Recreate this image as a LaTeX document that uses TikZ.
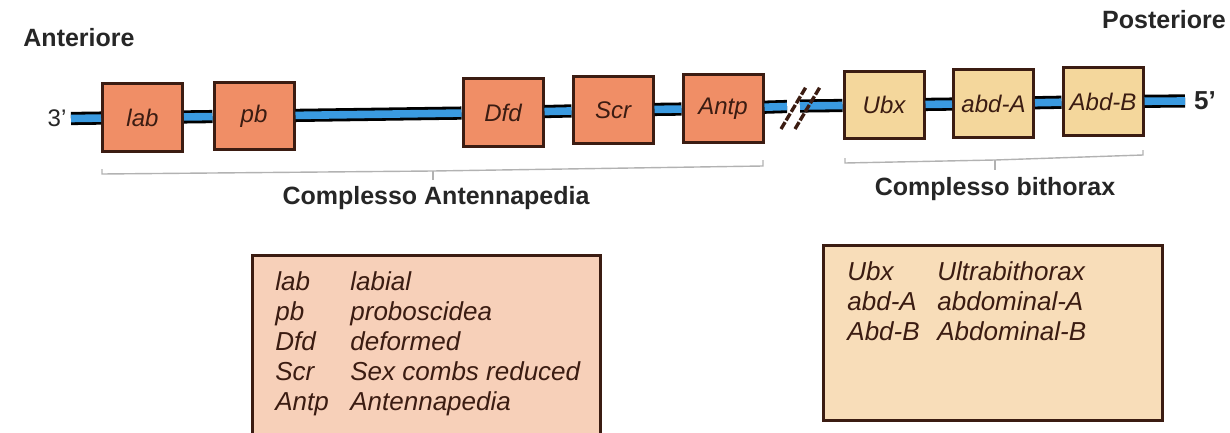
\documentclass[tikz,border=0pt]{standalone}
\usepackage{fontspec}
\setmainfont{Liberation Sans}
\definecolor{HoxOrange}{HTML}{F08E66}
\definecolor{HoxYellow}{HTML}{F4D79C}
\definecolor{KeyOrange}{HTML}{F7D0B9}
\definecolor{KeyYellow}{HTML}{F8DDB9}
\definecolor{DnaBlue}{HTML}{3A9AE0}
\definecolor{InkBrown}{HTML}{3B1C12}
\usetikzlibrary{positioning}

\begin{document}
\begin{tikzpicture}[x=0.5pt, y=-0.5pt,
  gene/.style={draw=InkBrown, line width=1.5pt, minimum width=40pt,
    minimum height=33.5pt, inner sep=0pt,
    font=\fontsize{12}{14}\selectfont\itshape, text=InkBrown},
  antgene/.style={gene, fill=HoxOrange},
  bxgene/.style={gene, fill=HoxYellow},
  dna/.style={draw=black, line width=1.4pt, double=DnaBlue, double distance=3.8pt},
  slash/.style={draw=InkBrown, line width=1.7pt, dash pattern=on 4pt off 1pt},
  bracket/.style={draw=gray!60, line width=0.7pt},
  heading/.style={font=\fontsize{12.5}{15}\selectfont\bfseries, text=black!85},
  keytext/.style={font=\fontsize{13}{15}\selectfont\itshape, text=InkBrown,
    inner sep=0pt, anchor=base west}]
  \useasboundingbox (0,0) rectangle (1230,433);

  % Ends of the chromosome
  \node[heading] (ant) at (79,38) {Anteriore};
  \node[heading] (post) at (1164,20) {Posteriore};
  \node[font=\fontsize{12}{14}\selectfont, text=black!85] (three) at (57,118) {3'};
  \node[font=\fontsize{13}{14}\selectfont\bfseries, text=black!85] (five) at (1205,101) {5'};
  \coordinate (end3) at (71,118.5);
  \coordinate (end5) at (1185,101);
  \coordinate (brkA) at (787,106.5);
  \coordinate (brkB) at (800,106);

  % Antennapedia complex
  \node[antgene] (lab) at (142.5,117.5) {lab};
  \node[antgene] (pb) at (254,116) {pb};
  \node[antgene] (Dfd) at (503,112.5) {Dfd};
  \node[antgene] (Scr) at (613,110) {Scr};
  \node[antgene] (Antp) at (723,108.5) {Antp};

  % bithorax complex
  \node[bxgene] (Ubx) at (884,105) {Ubx};
  \node[bxgene] (abdA) at (993.5,103.5) {abd-A};
  \node[bxgene] (AbdB) at (1103,101.5) {Abd-B};

  % DNA strand
  \foreach \a/\b in {end3/lab, lab/pb, pb/Dfd, Dfd/Scr, Scr/Antp, Antp/brkA,
                     brkB/Ubx, Ubx/abdA, abdA/AbdB, AbdB/end5}
    \draw[dna] (\a) -- (\b);
  \draw[slash] (781,129) -- (806,87);
  \draw[slash] (795,129) -- (820,87);

  % Brackets under the two complexes
  \draw[bracket] (102,169) -- (102,174) -- (433,171) -- (763,166) -- (763,160);
  \draw[bracket] (433,171) -- (433,180);
  \node[heading] (antLabel) at (436,198) {Complesso Antennapedia};
  \draw[bracket] (845,158) -- (845,163) -- (995,160) -- (1143,155) -- (1143,150);
  \draw[bracket] (995,160) -- (995,170);
  \node[heading] (bxLabel) at (995,189) {Complesso bithorax};

  % Keys
  \draw[fill=KeyOrange, draw=InkBrown, line width=1.5pt] (252,255) rectangle (600,445);
  \node[keytext] (antKey) at (275,290) {\begin{tabular}[t]{@{}p{37.5pt}@{}l@{}}
    lab & labial\\
    pb & proboscidea\\
    Dfd & deformed\\
    Scr & Sex combs reduced\\
    Antp & Antennapedia
  \end{tabular}};
  \draw[fill=KeyYellow, draw=InkBrown, line width=1.5pt] (823,245) rectangle (1162,420);
  \node[keytext] (bxKey) at (847,280) {\begin{tabular}[t]{@{}p{45pt}@{}l@{}}
    Ubx & Ultrabithorax\\
    abd-A & abdominal-A\\
    Abd-B & Abdominal-B
  \end{tabular}};
\end{tikzpicture}
\end{document}
